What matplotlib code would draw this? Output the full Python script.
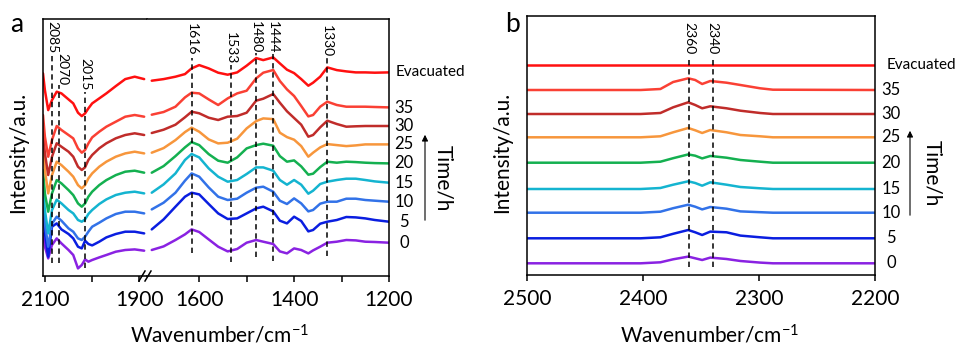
import numpy as np
import matplotlib
matplotlib.use('Agg')
import matplotlib.pyplot as plt
from matplotlib.transforms import blended_transform_factory
from matplotlib.lines import Line2D

plt.rcParams['font.family'] = ['Lato', 'DejaVu Sans']
plt.rcParams['mathtext.fontset'] = 'custom'
plt.rcParams['mathtext.rm'] = 'Lato'
plt.rcParams['mathtext.it'] = 'Lato:italic'
plt.rcParams['mathtext.bf'] = 'Lato:bold'

# ---------------- data ----------------
labels = ['0', '5', '10', '15', '20', '25', '30', '35', 'Evacuated']
colors = ['#8a22e2', '#0a1ee0', '#3272e8', '#14b4d0', '#14b050',
          '#f7963c', '#c02c2a', '#fa4034', '#ff1010']

# panel a, high-wavenumber segment (2100-1900 cm-1)
wn_a_left = [2104, 2100, 2093, 2085, 2075, 2065, 2050, 2040, 2030, 2022,
             2015, 2008, 2000, 1985, 1970, 1950, 1930, 1910, 1890]
a_left = {
    '0':  [9.3, -4, -15.7, -2.3, 4.3, -0.7, -7.3, -12.3, -25.7, -22.3, -16.7, -19, -17.3, -14.7, -12.3, -9, -7.3, -6.7, -8],
    '5':  [11.7, -11.7, -35, -5, -1.7, -7.7, -12.3, -16.7, -25, -26.7, -19, -22.3, -23.7, -20, -15.7, -12.3, -10, -10, -11.7],
    '10': [1.7, -21.7, -45, -22, -15, -19, -26.7, -30, -36.7, -38.3, -35, -30, -25, -21, -16.7, -12.3, -10, -10, -11.7],
    '15': [-4, -27.3, -50.7, -27.3, -17, -20.7, -27.3, -30.7, -37.3, -39, -36.7, -31.3, -27.3, -21.3, -16.7, -12.3, -10, -9, -10.7],
    '20': [-6.7, -30, -48.3, -30, -16.7, -20, -26.7, -31.7, -40, -43.3, -40, -33.3, -28.3, -21.7, -16.7, -11.7, -8.3, -7.3, -9.3],
    '25': [-0.7, -25.7, -49, -30.7, -17.3, -20.7, -27.3, -32.3, -40.7, -44, -40.7, -34, -29, -22.3, -17.3, -12.3, -9, -7.3, -9],
    '30': [-5.7, -27.3, -49, -30.7, -17.3, -20.7, -25.7, -30.7, -40.7, -44, -41.3, -34, -29, -22.3, -17.3, -12.3, -9, -7.3, -9],
    '35': [-7.3, -29, -49, -32.3, -18.3, -22.3, -27.3, -30.7, -40.7, -45, -42.3, -35.7, -29.7, -24, -19, -14, -9, -7.3, -9],
    'Evacuated': [-1, -17.7, -37.7, -27.7, -19.3, -21, -27, -31, -40.3, -43.7, -41, -36, -31, -26, -21, -13.7, -6.7, -4.3, -6.7],
}

# panel a, low-wavenumber segment (1700-1200 cm-1)
wn_a_right = [1700, 1675, 1650, 1630, 1616, 1600, 1580, 1560, 1540, 1520,
              1500, 1480, 1465, 1444, 1430, 1415, 1400, 1385, 1370, 1360,
              1345, 1330, 1310, 1290, 1270, 1250, 1230, 1200]
a_right = {
    '0':  [-7.3, -3.7, 2.7, 8.3, 13.3, 10.7, 3.3, -4, -8.7, -6.3, 0, 2.7, 1, -1.3, -8.7, -10.7, -5.7, -7.3, -10.7, -7.7, -4, 0, 1, 2.7, 2.3, 1, 0.7, 0],
    '5':  [-7.7, 2.3, 15, 25, 29, 27.3, 17.7, 8.3, 2.7, 3.3, 8.3, 13.3, 15, 10.3, 1, -1.7, 5, 0.7, -9.7, -8.3, -2, 0, 1.7, 4.7, 4.3, 3.3, 1.7, 0],
    '10': [-7.7, -1, 9, 21, 28.3, 25, 14.3, 5, 1.7, 3, 9, 14, 15, 10, 1, -2.3, 3.3, -1.7, -9.7, -8.3, -2, 0, 0, 3, 3, 1.7, 1, 0],
    '15': [-10, -1.7, 9.3, 22.7, 28.7, 25.3, 14.3, 6, 1, 2.7, 8.7, 15.3, 15.3, 12, 2.7, -2, 2.7, -2, -11, -8, -1.3, 1, 2.7, 4, 4, 2.7, 1.3, 0],
    '20': [-9.3, -2.7, 7.3, 16, 21.3, 18.3, 9.3, 2.7, 0.7, 6, 15, 18.3, 19.7, 17.7, 7.3, 1.7, 3, -3, -11.3, -10.3, -3.7, 1.7, 0.7, 1.7, 1.3, 0.7, 0.3, 0],
    '25': [-8.3, -3.7, 4.3, 12.3, 16.7, 12.7, 5, 1, 1.7, 5.7, 16, 23.3, 26, 25.3, 11.7, 7.3, 4.7, -1.7, -12.3, -8.3, -3, 0.3, -0.7, -1.7, -1, 0, 0, 0],
    '30': [-7, -3.7, 1.3, 8.7, 14.3, 12.7, 8.3, 6, 9.3, 10, 13.3, 25.3, 27.3, 32, 23.3, 14.7, 8, 1.3, -10.7, -9, -1.3, 5.3, 2, -0.7, -0.3, 0, 0, 0],
    '35': [-7, -4.3, 1, 10.3, 15, 14.3, 8.3, 2.7, 9.3, 14.3, 17, 29.3, 35, 37.7, 26.7, 18.3, 11.7, 1.7, -8.7, -7.3, 1, 6, 2.7, 1, 1, 1, 0.7, 0.3],
    'Evacuated': [-8.3, -6.7, -4.3, -1.7, 4, 7.3, 4, -0.3, -2.3, 0, 6.7, 14.3, 12.3, 15, 9, 2.7, -0.7, -6.7, -13.3, -10.3, -4.3, 5, 2.3, 1, 0, 0, -0.3, 0],
}
offsets_a = [0, 21, 41, 60, 79.3, 98.3, 116.7, 135, 170.3]

# panel b (2500-2200 cm-1)
wn_b = [2500, 2402, 2385, 2374, 2361, 2355, 2349, 2342, 2328, 2316, 2299, 2288, 2200]
b_vals = {
    '0':  [0, 0, 1, 4, 6.7, 5, 3.3, 5.7, 4.3, 2.3, 0.7, 0, 0],
    '5':  [0, 0, 1, 4.5, 8.3, 6, 3.3, 6.7, 6, 2.7, 1, 0, 0],
    '10': [0, 0, 1, 4.5, 8, 6, 3.3, 5.7, 4, 1.3, 0.5, 0, 0],
    '15': [0, 0, 1, 4.3, 7.7, 6, 3.3, 6.7, 4.3, 2, 0.7, 0, 0],
    '20': [0, 0, 1, 4.5, 8.3, 7, 4.3, 6.7, 5, 2.7, 1, 0, 0],
    '25': [0, 0, 1, 5, 9.3, 7, 4.3, 7.3, 5, 2.3, 1, 0, 0],
    '30': [0, 0, 1, 6.7, 11.7, 9, 5.7, 7.7, 5.7, 3.3, 1, 0, 0],
    '35': [0, 0, 1, 8, 11.7, 10, 6, 9, 7.3, 5, 1.7, 0.3, 0],
    'Evacuated': [0, 0, 0, 0, 0, 0, 0, 0, 0, 0, 0, 0, 0],
}
offsets_b = [0, 25, 50.6, 74.3, 100.6, 126, 149.3, 173.3, 198.3]

peaks_a = [2085, 2070, 2015, 1616, 1533, 1480, 1444, 1330]
peaks_b = [2360, 2340]

# ---------------- figure ----------------
W, H = 962, 346
fig = plt.figure(figsize=(W / 100, H / 100), dpi=100)

def rect(x0, y0, x1, y1):
    return [x0 / W, 1 - y1 / H, (x1 - x0) / W, (y1 - y0) / H]

def fpt(x, y):
    return (x / W, 1 - y / H)

axL = fig.add_axes(rect(43, 19, 147, 276))
axR = fig.add_axes(rect(147, 19, 389, 276))
axB = fig.add_axes(rect(527, 16, 875, 275))

LW = 1.8
for i, lab in enumerate(labels):
    kw = dict(color=colors[i], lw=LW, solid_joinstyle='round', solid_capstyle='round')
    axL.plot(wn_a_left, np.array(a_left[lab]) + offsets_a[i], **kw)
    axR.plot(wn_a_right, np.array(a_right[lab]) + offsets_a[i], **kw)
    axB.plot(wn_b, np.array(b_vals[lab]) + offsets_b[i], **kw)

axL.set_xlim(2104, 1884)
axR.set_xlim(1710, 1200)
axB.set_xlim(2500, 2200)
for ax in (axL, axR):
    ax.set_ylim(-33.3, 223.7)
axB.set_ylim(-11.7, 247.3)

for ax in (axL, axR, axB):
    ax.set_yticks([])
    for s in ax.spines.values():
        s.set_linewidth(1.1)
        s.set_color('black')
    ax.tick_params(axis='x', direction='out', length=4, width=1.1,
                   labelsize=15, pad=6, colors='black')
axL.spines['right'].set_visible(False)
axR.spines['left'].set_visible(False)

axL.set_xticks([2100, 2000, 1900])
axL.set_xticklabels(['2100', '', '1900'])
axR.set_xticks([1600, 1500, 1400, 1300, 1200])
axR.set_xticklabels(['1600', '', '1400', '', '1200'])
axB.set_xticks([2500, 2400, 2300, 2200])

# break marker
for x0 in (139, 145):
    fig.add_artist(Line2D([x0 / W, (x0 + 6) / W], [1 - 281 / H, 1 - 271 / H],
                          color='black', lw=1.1))

# dashed peak lines and rotated labels
dash = dict(color='black', lw=1.1, ls=(0, (3.5, 2.5)))
pk_a_span = {2085: (0.051, 0.860), 2070: (0.051, 0.743), 2015: (0.031, 0.716),
             1616: (0.090, 0.848), 1533: (0.055, 0.821), 1480: (0.074, 0.868),
             1444: (0.058, 0.868), 1330: (0.078, 0.848)}
pk_a_text = {2085: (0, 0.992), 2070: (3.5, 0.868), 2015: (0, 0.848),
             1616: (0, 0.984), 1533: (0, 0.949), 1480: (0, 0.992),
             1444: (0, 0.992), 1330: (0, 0.977)}
for p in peaks_a:
    ax = axL if p > 1800 else axR
    y0, y1 = pk_a_span[p]
    ax.axvline(p, ymin=y0, ymax=y1, **dash)
    dx, yt = pk_a_text[p]
    ax.annotate(str(p), xy=(p, yt), xycoords=ax.get_xaxis_transform(),
                xytext=(dx, 0), textcoords='offset pixels',
                rotation=-90, ha='center', va='top', fontsize=10)
for p in peaks_b:
    axB.axvline(p, ymin=0.03, ymax=0.842, **dash)
    axB.text(p, 0.978, str(p), transform=axB.get_xaxis_transform(),
             rotation=-90, ha='center', va='top', fontsize=10)

# curve labels on the right
trR = blended_transform_factory(axR.transAxes, axR.transData)
trB = blended_transform_factory(axB.transAxes, axB.transData)
for i, lab in enumerate(labels):
    if lab == 'Evacuated':
        axR.text(1.029, offsets_a[i], lab, transform=trR, ha='left', va='center', fontsize=11)
        axB.text(1.0345, offsets_b[i], lab, transform=trB, ha='left', va='center', fontsize=11)
    else:
        axR.text(1.062, offsets_a[i], lab, transform=trR, ha='center', va='center', fontsize=12)
        axB.text(1.046, offsets_b[i], lab, transform=trB, ha='center', va='center', fontsize=12)

# arrows and Time/h
for (x, y0, y1, tx, ty) in [(425, 223, 132, 443, 178), (910, 218, 128, 932, 173)]:
    fig.add_artist(matplotlib.patches.FancyArrowPatch(
        fpt(x, y0), fpt(x, y1), transform=fig.transFigure,
        arrowstyle='-|>', mutation_scale=9, lw=0.8, color='black'))
    fig.text(*fpt(tx, ty), 'Time/h', rotation=-90, ha='center', va='center', fontsize=15)

# axis labels
for (x, y) in [(220, 335), (710, 335)]:
    fig.text(*fpt(x, y), 'Wavenumber/cm$^{-1}$', ha='center', va='center', fontsize=15)
for (x, y) in [(18, 152), (502, 152)]:
    fig.text(*fpt(x, y), 'Intensity/a.u.', rotation=90, ha='center', va='center', fontsize=15)

fig.text(*fpt(17, 25), 'a', ha='center', va='center', fontsize=19)
fig.text(*fpt(513, 24), 'b', ha='center', va='center', fontsize=19)

fig.savefig('out.png', dpi=100)
